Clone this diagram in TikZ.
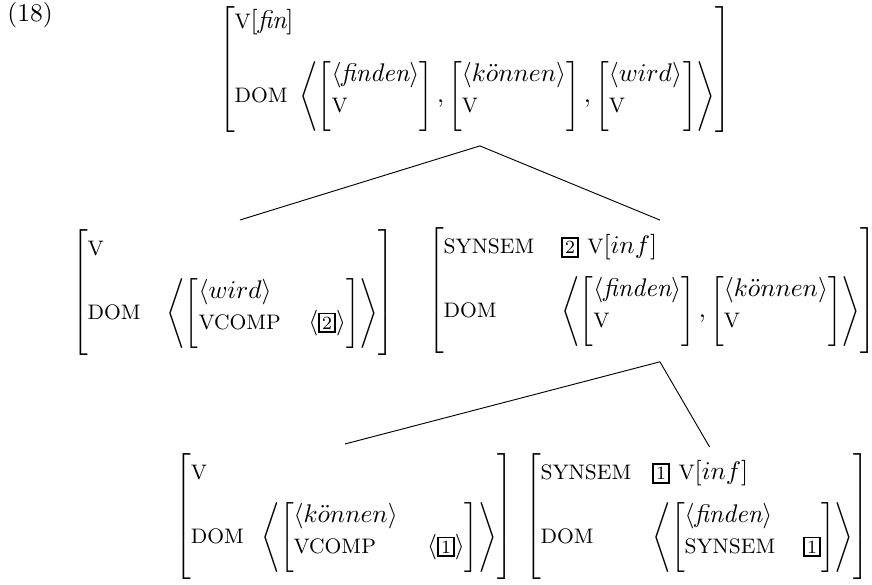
\documentclass[tikz,border=0pt,11pt]{standalone}
\usepackage{array}

\newcommand{\ft}[1]{\mbox{\footnotesize #1}}
\newcommand{\tg}[1]{{\setlength{\fboxsep}{1pt}\setlength{\fboxrule}{0.7pt}\fbox{\scriptsize #1}}}
\newcommand{\orth}[1]{\langle #1\rangle}
\newcommand{\lst}[1]{\Biggl\langle #1\Biggr\rangle}
\newcommand{\wavm}[2]{\left[\begin{array}{@{}l@{}}
  #1\\[-0.7pt]
  \ft{V}\rule[-9pt]{0pt}{9pt}
  \end{array}\kern#2\right]}
\newcommand{\iavm}[4]{\left[\begin{array}{@{}l@{\hspace{#4}}r@{}}
  \multicolumn{2}{@{}l@{}}{#1}\\[-0.7pt]
  #2 & #3\rule[-9pt]{0pt}{9pt}
  \end{array}\right]}
\newcommand{\oavm}[3]{\left[\begin{array}{@{}l@{\hspace{#1}}l@{}}
  #2\rule{0pt}{11pt}\\[5pt]
  #3\rule[-15.5pt]{0pt}{15.5pt}
  \end{array}\right]}

\begin{document}
\begin{tikzpicture}[x=0.4292pt,y=-0.4292pt,
  avm/.style={inner sep=0pt,outer sep=0pt,anchor=north},
  branch/.style={line width=0.4pt}]
 \useasboundingbox (0,0) rectangle (872,585);
 \node[inner sep=0pt,anchor=base west] (ex) at (7,22) {(18)};
 \node[avm] (top) at (475,6) {$\left[\begin{array}{@{}l@{}}
   \ft{V}[\textit{fin}]\\[9.5pt]
   \ft{DOM}\hspace{5pt}\lst{\wavm{\orth{\textit{finden}}}{0pt}, \wavm{\orth{k\ddot{o}nnen}}{0pt}, \wavm{\orth{wird}}{0.5pt}}\rule[-13.3pt]{0pt}{13.3pt}
   \end{array}\right]$};
 \node[avm] (vl) at (233,230) {$\oavm{11pt}{\ft{V} &}{\ft{DOM} & \lst{\iavm{\orth{wird}}{\ft{VCOMP}}{\langle\tg{2}\rangle}{11.8pt}}}$};
 \node[avm] (vr) at (652,228) {$\oavm{11.5pt}{\ft{SYNSEM} & \tg{2}\ \ft{V}[inf]}{\ft{DOM} & \lst{\wavm{\orth{\textit{finden}}}{0pt}, \wavm{\orth{k\ddot{o}nnen}}{0pt}}}$};
 \node[avm] (bl) at (344,454) {$\oavm{7.5pt}{\ft{V} &}{\ft{DOM} & \lst{\iavm{\orth{k\ddot{o}nnen}}{\ft{VCOMP}}{\langle\tg{1}\rangle}{22pt}}}$};
 \node[avm] (br) at (697,454) {$\oavm{9pt}{\ft{SYNSEM} & \tg{1}\ \ft{V}[inf]}{\ft{DOM} & \lst{\iavm{\orth{\textit{finden}}}{\ft{SYNSEM}}{\tg{1}}{12pt}}}$};
 \coordinate (topfoot) at ([xshift=2.1pt,yshift=-5.2pt]top.south);
 \coordinate (vrfoot) at ([xshift=3.4pt,yshift=-3.4pt]vr.south);
 \draw[branch] (topfoot) -- ([xshift=3pt,yshift=4.3pt]vl.north);
 \draw[branch] (topfoot) -- ([xshift=3.4pt,yshift=3.4pt]vr.north);
 \draw[branch] (vrfoot) -- ([xshift=0.4pt,yshift=4.3pt]bl.north);
 \draw[branch] (vrfoot) -- ([xshift=5.4pt,yshift=3pt]br.north);
\end{tikzpicture}
\end{document}
